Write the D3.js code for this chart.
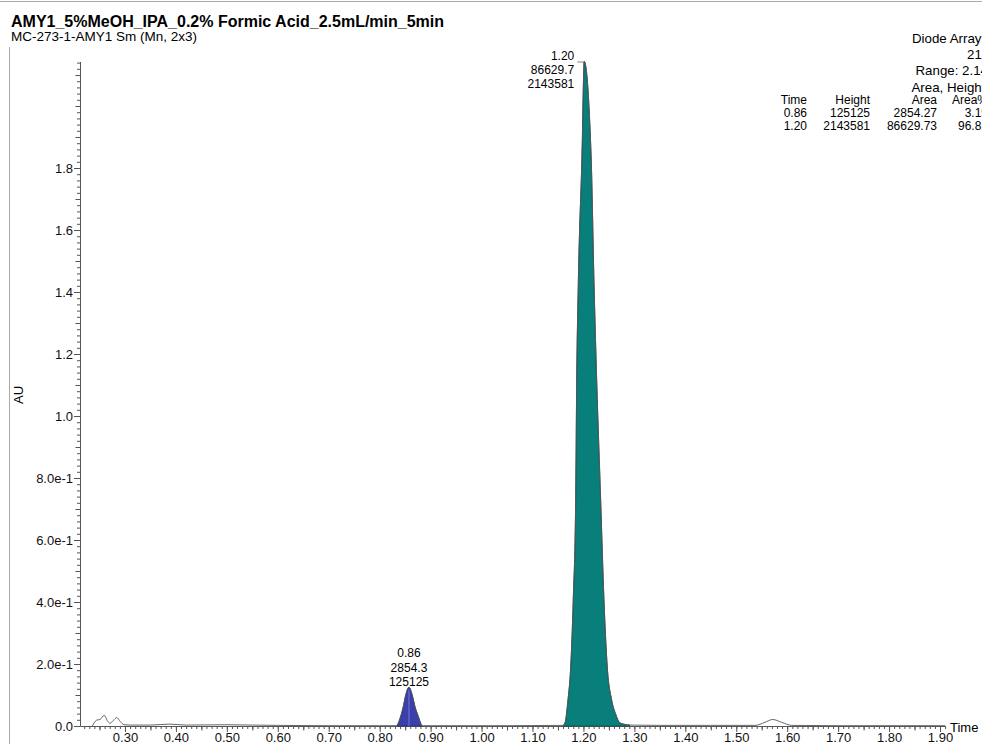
<!DOCTYPE html>
<html>
<head>
<meta charset="utf-8">
<script src="https://cdn.jsdelivr.net/npm/d3@7"></script>
<style>
  body { margin: 0; background: #fff; }
  svg { font-family: "Liberation Sans", Arial, Helvetica, sans-serif; }
  .tick text { font-size: 13px; fill: #111; }
  .axis path, .axis line { stroke: #555; }
</style>
</head>
<body>
<script>
var fullWidth = 982;
var fullHeight = 744;

// chromatogram trace (time in min, absorbance in AU)
var traceTime = [0.236, 0.2444, 0.2509, 0.2594, 0.265, 0.2706, 0.277, 0.2837, 0.291, 0.298,
                 0.31, 0.35, 0.388, 0.42, 0.50, 0.55, 0.60, 0.70, 0.80, 0.834,
                 0.8412, 0.8463, 0.8503, 0.8575, 0.8648, 0.8693, 0.8758, 0.8825, 0.95, 1.05,
                 1.160, 1.1638, 1.1697, 1.175, 1.180, 1.1848, 1.1868, 1.190, 1.1972, 1.2016,
                 1.2150, 1.2207, 1.226, 1.2338, 1.2403, 1.2468, 1.2554, 1.264, 1.2717, 1.291,
                 1.35, 1.45, 1.537, 1.5564, 1.5715, 1.589, 1.6088, 1.70, 1.80, 1.91];
var traceAU = [0.000, 0.019, 0.021, 0.0345, 0.018, 0.0087, 0.018, 0.027, 0.014, 0.004,
               0.003, 0.003, 0.006, 0.003, 0.004, 0.003, 0.002, 0.001, 0.001, 0.001,
               0.031, 0.0625, 0.094, 0.1251, 0.094, 0.0625, 0.031, 0.001, 0.001, 0.001,
               0.002, 0.010, 0.084, 0.19, 0.406, 0.729, 1.116, 1.432, 1.842, 2.1436,
               1.842, 1.432, 1.116, 0.729, 0.406, 0.19, 0.084, 0.035, 0.010, 0.003,
               0.002, 0.002, 0.002, 0.012, 0.021, 0.012, 0.002, 0.001, 0.001, 0.001];

// integrated peaks
var peakTime = [0.86, 1.20];
var peakApex = [0.8575, 1.2016];
var peakStart = [0.834, 1.160];
var peakEnd = [0.8825, 1.291];
var peakHeight = [125125, 2143581];
var peakArea = [2854.27, 86629.73];
var peakAreaPct = [3.19, 96.81];
var peakFill = ["#3b3fae", "#087f7a"];
var peakStroke = ["#26287a", "#0a4f4b"];

var xTicks = [0.30, 0.40, 0.50, 0.60, 0.70, 0.80, 0.90, 1.00, 1.10, 1.20, 1.30, 1.40, 1.50, 1.60, 1.70, 1.80, 1.90];
var yTicks = [0, 0.2, 0.4, 0.6, 0.8, 1.0, 1.2, 1.4, 1.6, 1.8];

var headerLines = ["Diode Array", "210", "Range: 2.144", "Area, Height"];

window.onload = function() {
    var trace = [];
    for (let i = 0; i < traceTime.length; i++) {
        trace.push({t: traceTime[i], v: traceAU[i]});
    };
    drawPlot(trace);
};

function drawPlot(trace) {

    var svg = d3.select("body")
                .append("svg")
                .attr("width", fullWidth)
                .attr("height", fullHeight);

    // frame lines
    svg.append("line")
       .attr("x1", 0).attr("x2", fullWidth)
       .attr("y1", 1.5).attr("y2", 1.5)
       .style("stroke", "#aaa");
    svg.append("line")
       .attr("x1", 9.5).attr("x2", 9.5)
       .attr("y1", 47).attr("y2", fullHeight)
       .style("stroke", "#aaa");

    // titles
    svg.append("text")
       .attr("x", 11)
       .attr("y", 26.5)
       .style("font-size", "16px")
       .style("font-weight", "bold")
       .text("AMY1_5%MeOH_IPA_0.2% Formic Acid_2.5mL/min_5min");

    svg.append("text")
       .attr("x", 11)
       .attr("y", 40.5)
       .style("font-size", "13.5px")
       .text("MC-273-1-AMY1 Sm (Mn, 2x3)");

    var xScale = d3.scaleLinear()
                   .domain([0.2117, 1.9098])
                   .range([80, 945]);

    var yScale = d3.scaleLinear()
                   .domain([0, 2.1436])
                   .range([726, 61.5]);

    // minor ticks
    svg.append("g")
       .attr("class", "axis")
       .attr("transform", "translate(0,726)")
       .call(d3.axisBottom(xScale).tickValues(d3.range(22, 192).map(function(d) { return d / 100; }))
             .tickSize(3).tickFormat(""))
       .select(".domain").remove();
    svg.append("g")
       .attr("class", "axis")
       .attr("transform", "translate(0,726)")
       .call(d3.axisBottom(xScale).tickValues(d3.range(5, 39, 2).map(function(d) { return d / 20; }))
             .tickSize(4.5).tickFormat(""))
       .select(".domain").remove();
    svg.append("g")
       .attr("class", "axis")
       .attr("transform", "translate(80,0)")
       .call(d3.axisLeft(yScale).tickValues(d3.range(0, 108).map(function(d) { return d / 50; }))
             .tickSize(3).tickFormat(""))
       .select(".domain").remove();
    svg.append("g")
       .attr("class", "axis")
       .attr("transform", "translate(80,0)")
       .call(d3.axisLeft(yScale).tickValues([0.1, 0.3, 0.5, 0.7, 0.9, 1.1, 1.3, 1.5, 1.7, 1.9, 2.0, 2.1])
             .tickSize(4.5).tickFormat(""))
       .select(".domain").remove();

    // main axes
    var xAxis = d3.axisBottom(xScale)
                  .tickValues(xTicks)
                  .tickSize(6)
                  .tickSizeOuter(0)
                  .tickPadding(1)
                  .tickFormat(d3.format(".2f"));

    var yAxis = d3.axisLeft(yScale)
                  .tickValues(yTicks)
                  .tickSize(6)
                  .tickSizeOuter(0)
                  .tickPadding(1)
                  .tickFormat(function(d) {
                      if (d == 0) return "0.0";
                      if (d < 1) return d3.format(".1e")(d);
                      return d3.format(".1f")(d);
                  });

    svg.append("g")
       .attr("class", "axis")
       .attr("transform", "translate(0,726)")
       .call(xAxis);

    svg.append("g")
       .attr("class", "axis")
       .attr("transform", "translate(80,0)")
       .call(yAxis);

    // axis names
    svg.append("text")
       .attr("x", 950)
       .attr("y", 732)
       .style("font-size", "13px")
       .text("Time");

    svg.append("text")
       .attr("transform", "rotate(-90)")
       .attr("x", -395)
       .attr("y", 23)
       .style("text-anchor", "middle")
       .style("font-size", "13px")
       .text("AU");

    // filled peaks
    var area = d3.area()
                 .x(function(d) { return xScale(d.t); })
                 .y0(yScale(0))
                 .y1(function(d) { return yScale(d.v); })
                 .curve(d3.curveMonotoneX);

    for (let i = 0; i < peakTime.length; i++) {
        var seg = trace.filter(function(d) { return d.t >= peakStart[i] && d.t <= peakEnd[i]; });
        svg.append("path")
           .datum(seg)
           .attr("d", area)
           .style("fill", peakFill[i])
           .style("stroke", peakStroke[i])
           .style("stroke-width", 0.8);
    };

    // drop line at the small peak apex
    svg.append("line")
       .attr("x1", xScale(peakApex[0])).attr("x2", xScale(peakApex[0]))
       .attr("y1", yScale(0)).attr("y2", yScale(peakHeight[0] / 1e6) + 3)
       .style("stroke", "#ffffff")
       .style("stroke-opacity", 0.3)
       .style("stroke-width", 1);

    // whole trace
    var line = d3.line()
                 .x(function(d) { return xScale(d.t); })
                 .y(function(d) { return yScale(d.v); })
                 .curve(d3.curveMonotoneX);

    svg.append("path")
       .datum(trace)
       .attr("d", line)
       .style("fill", "none")
       .style("stroke", "#555")
       .style("stroke-width", 0.9);

    // peak labels
    // small peak: centred above apex
    var lab0 = [peakTime[0].toFixed(2), peakArea[0].toFixed(1), String(peakHeight[0])];
    for (let j = 0; j < 3; j++) {
        svg.append("text")
           .attr("x", xScale(peakApex[0]))
           .attr("y", yScale(peakHeight[0] / 1e6) - 30 + j * 14.5)
           .style("text-anchor", "middle")
           .style("font-size", "12px")
           .text(lab0[j]);
    };

    // big peak: to the left with a small bracket
    var apexX = xScale(peakApex[1]);
    var apexY = yScale(peakHeight[1] / 1e6);
    var lab1 = [peakTime[1].toFixed(2), peakArea[1].toFixed(1), String(peakHeight[1])];
    for (let j = 0; j < 3; j++) {
        svg.append("text")
           .attr("x", apexX - 10)
           .attr("y", apexY - 2 + j * 14.4)
           .style("text-anchor", "end")
           .style("font-size", "12px")
           .text(lab1[j]);
    };
    svg.append("path")
       .attr("d", "M" + (apexX - 7) + "," + (apexY + 0.5) + "H" + (apexX - 0.5) + "V" + (apexY + 4))
       .style("fill", "none")
       .style("stroke", "#666")
       .style("stroke-width", 0.8);

    // header lines, running off the right edge as in the original
    var headerX = [912, 967, 915.5, 911.5];
    for (let j = 0; j < headerLines.length; j++) {
        svg.append("text")
           .attr("x", headerX[j])
           .attr("y", 43 + j * 16.2)
           .style("font-size", "13.3px")
           .text(headerLines[j]);
    };

    // peak table
    var colX = [807, 870, 937, 988];
    var colHead = ["Time", "Height", "Area", "Area%"];
    for (let c = 0; c < colHead.length; c++) {
        svg.append("text")
           .attr("x", colX[c])
           .attr("y", 103.5)
           .style("text-anchor", "end")
           .style("font-size", "12px")
           .text(colHead[c]);
    };
    for (let i = 0; i < peakTime.length; i++) {
        var row = [peakTime[i].toFixed(2), String(peakHeight[i]), peakArea[i].toFixed(2), peakAreaPct[i].toFixed(2)];
        for (let c = 0; c < row.length; c++) {
            svg.append("text")
               .attr("x", colX[c])
               .attr("y", 117 + i * 13.3)
               .style("text-anchor", "end")
               .style("font-size", "12px")
               .text(row[c]);
        };
    };
};
</script>
</body>
</html>
